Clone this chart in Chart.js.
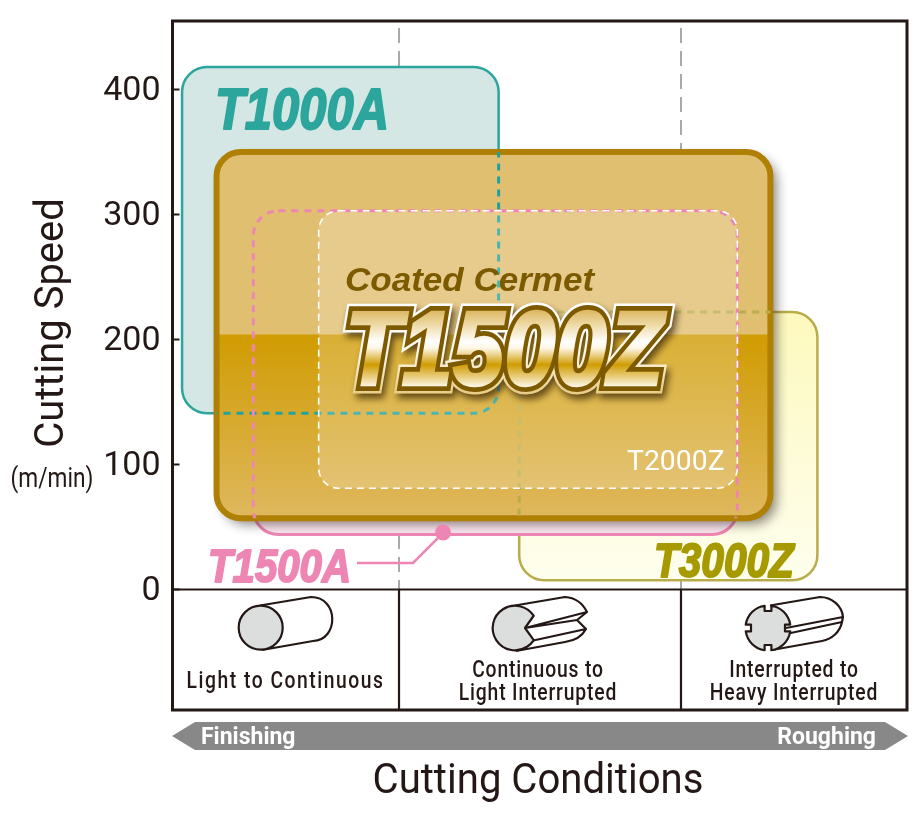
<!DOCTYPE html>
<html>
<head>
<meta charset="utf-8">
<style>
html, body { margin: 0; padding: 0; background: #fff; }
#chart { display: block; }
</style>
<script src="https://cdn.jsdelivr.net/npm/chart.js@4/dist/chart.umd.js"></script>
</head>
<body>
<canvas id="chart" width="923" height="820"></canvas>
<script>
// cutting speed range and position of each grade
const grades = ['T1000A', 'T3000Z', 'T1500A', 'T1500Z', 'T2000Z'];
const speedLow = [141, 7.5, 44, 57, 81];
const speedHigh = [418, 222, 303, 350, 303];
const condStart = [1.3, 47.2, 11, 6, 19.9];
const condEnd = [44.4, 87.8, 76.9, 81.4, 76.9];
const speedTicks = [0, 100, 200, 300, 400];
const condSplits = [30.84, 69.23];
const condLabels = [['Light to Continuous'], ['Continuous to', 'Light Interrupted'], ['Interrupted to', 'Heavy Interrupted']];

const INK = '#231815';
const TEAL = '#2ca59c';
const PINK = '#ee86b4';
const OLIVE = '#b8ad4a';
const BROWN = '#b08005';

function label(ctx, text, x, y, o) {
    ctx.save();
    ctx.translate(x, y);
    if (o.rotate) ctx.rotate(o.rotate);
    ctx.scale(o.sx || 1, 1);
    ctx.font = o.font;
    if (o.spacing) ctx.letterSpacing = o.spacing;
    ctx.textAlign = o.align || 'center';
    ctx.textBaseline = 'alphabetic';
    ctx.fillStyle = o.color || INK;
    if (o.thick) {
        ctx.lineWidth = o.thick;
        ctx.lineJoin = 'round';
        ctx.strokeStyle = o.color;
        ctx.strokeText(text, 0, 0);
    }
    ctx.fillText(text, 0, 0);
    ctx.restore();
}

function box(chart, i) {
    const { x, y } = chart.scales;
    const l = x.getPixelForValue(condStart[i]), r = x.getPixelForValue(condEnd[i]);
    const t = y.getPixelForValue(speedHigh[i]), b = y.getPixelForValue(speedLow[i]);
    return [l, t, r - l, b - t];
}

function roundBox(ctx, b, rad) {
    ctx.beginPath();
    ctx.roundRect(b[0], b[1], b[2], b[3], rad);
}

function drawIcon1(ctx) {
    ctx.beginPath();
    ctx.moveTo(260, 605.5);
    ctx.lineTo(311, 597);
    ctx.bezierCurveTo(339, 597, 339, 640, 313, 641);
    ctx.lineTo(262, 650);
    ctx.fillStyle = '#fff';
    ctx.stroke();
    ctx.beginPath();
    ctx.arc(260.7, 627.7, 22, 0, Math.PI * 2);
    ctx.fillStyle = '#dcdddd';
    ctx.fill();
    ctx.stroke();
}

function drawIcon2(ctx) {
    // body with the wedge groove
    ctx.beginPath();
    ctx.moveTo(515, 605.5);
    ctx.lineTo(565, 597);
    ctx.quadraticCurveTo(580, 598, 587, 612);
    ctx.lineTo(525, 628);
    ctx.moveTo(525, 628);
    ctx.lineTo(577, 620);
    ctx.lineTo(586, 629);
    ctx.lineTo(531, 641);
    ctx.moveTo(586, 629);
    ctx.quadraticCurveTo(580, 640, 565, 642);
    ctx.lineTo(516, 651);
    ctx.moveTo(587, 612);
    ctx.lineTo(577, 620);
    ctx.stroke();
    ctx.beginPath();
    ctx.moveTo(525, 628);
    ctx.lineTo(533.5, 616);
    ctx.arc(515, 628, 22.3, -0.57, 0.57, true);
    ctx.closePath();
    ctx.fillStyle = '#dcdddd';
    ctx.fill();
    ctx.stroke();
}

function drawIcon3(ctx) {
    ctx.beginPath();
    ctx.moveTo(770, 605.5);
    ctx.lineTo(820, 597);
    ctx.bezierCurveTo(832, 597, 842, 606, 843, 617);
    ctx.lineTo(786, 628);
    ctx.moveTo(843, 617);
    ctx.lineTo(842, 622);
    ctx.lineTo(786, 634);
    ctx.moveTo(842, 622);
    ctx.bezierCurveTo(840, 632, 832, 639, 822, 641);
    ctx.lineTo(772, 650);
    ctx.stroke();
    ctx.save();
    ctx.translate(768, 628);
    ctx.beginPath();
    // disc with four square notches
    for (let k = 0; k < 4; k++) {
        const a = k * Math.PI / 2;
        const gap = 0.15;
        ctx.arc(0, 0, 22.5, a + gap, a + Math.PI / 2 - gap);
        const n = a + Math.PI / 2;
        const cx = Math.cos(n), cy = Math.sin(n);
        const tx = -cy, ty = cx;
        ctx.lineTo(cx * 17 - tx * 3.4, cy * 17 - ty * 3.4);
        ctx.lineTo(cx * 17 + tx * 3.4, cy * 17 + ty * 3.4);
    }
    ctx.closePath();
    ctx.fillStyle = '#dcdddd';
    ctx.fill();
    ctx.stroke();
    ctx.restore();
}

const schemePlugin = {
    id: 'scheme',
    beforeDatasetsDraw(chart) {
        const { ctx, chartArea: area, scales: { x, y } } = chart;
        const y0 = y.getPixelForValue(0);
        const [A, C, PA, Z, W] = [0, 1, 2, 3, 4].map(i => box(chart, i));

        // grey dashed dividers over the speed area
        ctx.save();
        ctx.strokeStyle = '#a9a9a9';
        ctx.lineWidth = 2;
        ctx.setLineDash([15, 8]);
        condSplits.forEach(v => {
            const px = x.getPixelForValue(v);
            ctx.beginPath();
            ctx.moveTo(px, area.top + 7);
            ctx.lineTo(px, y0);
            ctx.stroke();
        });
        ctx.restore();

        // T1000A
        ctx.save();
        roundBox(ctx, A, 25);
        ctx.fillStyle = '#d5e7e4';
        ctx.fill();
        ctx.strokeStyle = TEAL;
        ctx.lineWidth = 2.5;
        ctx.stroke();
        // T3000Z
        roundBox(ctx, C, 25);
        const cg = ctx.createLinearGradient(0, C[1], 0, C[1] + C[3]);
        cg.addColorStop(0, '#fdf9bd');
        cg.addColorStop(1, '#fefeee');
        ctx.fillStyle = cg;
        ctx.fill();
        ctx.strokeStyle = OLIVE;
        ctx.stroke();
        // T1500A, solid part shows under the main box
        ctx.save();
        roundBox(ctx, PA, 25);
        ctx.fillStyle = '#fbe6ef';
        ctx.fill();
        ctx.restore();
        roundBox(ctx, PA, 25);
        ctx.strokeStyle = PINK;
        ctx.lineWidth = 3;
        ctx.stroke();

        // T1500Z main box
        ctx.save();
        ctx.shadowColor = 'rgba(40,30,30,0.55)';
        ctx.shadowBlur = 12;
        ctx.shadowOffsetX = 6;
        ctx.shadowOffsetY = 6;
        roundBox(ctx, Z, 24);
        ctx.fillStyle = '#e1bf70';
        ctx.fill();
        ctx.restore();
        const split = y.getPixelForValue(204);
        ctx.save();
        roundBox(ctx, Z, 24);
        ctx.clip();
        const zg = ctx.createLinearGradient(0, split, 0, Z[1] + Z[3]);
        zg.addColorStop(0, '#d09c02');
        zg.addColorStop(1, '#dfb85f');
        ctx.fillStyle = zg;
        ctx.fillRect(Z[0], split, Z[2], Z[1] + Z[3] - split);
        ctx.restore();
        roundBox(ctx, Z, 24);
        ctx.strokeStyle = BROWN;
        ctx.lineWidth = 6;
        ctx.stroke();

        // dashed outlines of what the main box covers
        ctx.save();
        roundBox(ctx, Z, 24);
        ctx.clip();
        ctx.lineWidth = 3;
        ctx.setLineDash([7, 6]);
        roundBox(ctx, A, 25);
        ctx.strokeStyle = '#1fa3a0';
        ctx.stroke();
        roundBox(ctx, C, 25);
        ctx.strokeStyle = OLIVE;
        ctx.stroke();
        roundBox(ctx, W, 20);
        ctx.fillStyle = 'rgba(255,255,255,0.2)';
        ctx.fill();
        ctx.setLineDash([7, 6]);
        ctx.lineWidth = 3;
        roundBox(ctx, PA, 25);
        ctx.strokeStyle = PINK;
        ctx.stroke();
        ctx.setLineDash([7, 5]);
        ctx.lineWidth = 1.6;
        roundBox(ctx, W, 20);
        ctx.strokeStyle = '#fff';
        ctx.stroke();
        ctx.restore();
        ctx.restore();

        // grade labels
        label(ctx, 'T1000A', 215, 129, { font: 'italic bold 58px "Liberation Sans"', sx: 0.843, align: 'left', color: TEAL, thick: 2 });
        label(ctx, 'T3000Z', 654, 576.5, { font: 'italic bold 48px "Liberation Sans"', sx: 0.845, align: 'left', color: '#a69a00', thick: 2 });
        label(ctx, 'T1500A', 208, 582, { font: 'italic bold 47px "Liberation Sans"', sx: 0.855, align: 'left', color: PINK, thick: 2 });
        label(ctx, 'T2000Z', 627, 470, { font: '27px Roboto', sx: 1.05, align: 'left', color: '#fff' });
        label(ctx, 'Coated Cermet', 345, 291, { font: 'italic bold 34px "Liberation Sans"', sx: 1.03, align: 'left', color: '#7b5a00' });

        // leader from T1500A
        ctx.save();
        ctx.strokeStyle = PINK;
        ctx.lineWidth = 2.5;
        ctx.beginPath();
        ctx.moveTo(357, 563);
        ctx.lineTo(413, 563);
        ctx.lineTo(443, 533);
        ctx.stroke();
        ctx.beginPath();
        ctx.arc(443, 532.5, 8, 0, Math.PI * 2);
        ctx.fillStyle = PINK;
        ctx.fill();
        ctx.restore();

        // big logo
        ctx.save();
        ctx.translate(345, 385);
        ctx.scale(0.88, 1);
        ctx.font = 'italic bold 105px "Liberation Sans"';
        ctx.textAlign = 'left';
        ctx.lineJoin = 'miter';
        ctx.miterLimit = 3;
        ctx.save();
        ctx.shadowColor = 'rgba(50,30,0,0.7)';
        ctx.shadowBlur = 7;
        ctx.shadowOffsetX = 3;
        ctx.shadowOffsetY = 5;
        const rim = ctx.createLinearGradient(0, -81, 0, 9);
        rim.addColorStop(0, '#ffffff');
        rim.addColorStop(0.55, '#fdf8ea');
        rim.addColorStop(1, '#e8cc84');
        ctx.strokeStyle = rim;
        ctx.lineWidth = 17;
        ctx.strokeText('T1500Z', 0, 0);
        ctx.restore();
        ctx.strokeStyle = '#7d5900';
        ctx.lineWidth = 12;
        ctx.strokeText('T1500Z', 0, 0);
        const gold = ctx.createLinearGradient(0, -75, 0, 1);
        gold.addColorStop(0, '#dcb660');
        gold.addColorStop(0.22, '#f0dfb0');
        gold.addColorStop(0.42, '#ffffff');
        gold.addColorStop(0.5, '#fdf7e6');
        gold.addColorStop(0.72, '#d09c02');
        gold.addColorStop(1, '#fbf4df');
        ctx.strokeStyle = gold;
        ctx.lineWidth = 2.5;
        ctx.strokeText('T1500Z', 0, 0);
        ctx.fillStyle = gold;
        ctx.fillText('T1500Z', 0, 0);
        ctx.restore();

        // lower table of cutting conditions
        ctx.save();
        ctx.strokeStyle = INK;
        ctx.lineWidth = 2.2;
        ctx.fillStyle = '#fff';
        ctx.fillRect(area.left, y0, area.width, area.bottom - y0);
        ctx.beginPath();
        ctx.moveTo(area.left, y0);
        ctx.lineTo(area.right, y0);
        condSplits.forEach(v => {
            const px = x.getPixelForValue(v);
            ctx.moveTo(px, y0);
            ctx.lineTo(px, area.bottom);
        });
        ctx.stroke();
        ctx.lineJoin = 'round';
        drawIcon1(ctx);
        drawIcon2(ctx);
        drawIcon3(ctx);
        ctx.restore();

        const capFont = '500 23px Roboto';
        const centres = [285.5, 538, 794];
        condLabels.forEach((lines, i) => {
            const ys = lines.length === 1 ? [688] : [677, 700];
            const spacing = lines.length === 1 ? '1.8px' : '1px';
            lines.forEach((t, k) => label(ctx, t, centres[i], ys[k], { font: capFont, sx: 0.84, spacing }));
        });

        // frame and inward tick marks
        ctx.save();
        ctx.strokeStyle = INK;
        ctx.lineWidth = 3;
        ctx.strokeRect(area.left, area.top, area.width, area.height);
        ctx.lineWidth = 2;
        speedTicks.forEach(v => {
            const py = y.getPixelForValue(v);
            ctx.beginPath();
            ctx.moveTo(area.left, py);
            ctx.lineTo(area.left + 7, py);
            ctx.stroke();
        });
        ctx.restore();

        // direction arrow below the table
        ctx.save();
        ctx.fillStyle = '#888888';
        ctx.beginPath();
        ctx.moveTo(172, 736);
        ctx.lineTo(195, 722);
        ctx.lineTo(885, 722);
        ctx.lineTo(908, 736);
        ctx.lineTo(885, 750);
        ctx.lineTo(195, 750);
        ctx.closePath();
        ctx.fill();
        ctx.restore();
        label(ctx, 'Finishing', 201, 744, { font: 'bold 23px Roboto', sx: 1, align: 'left', color: '#fff' });
        label(ctx, 'Roughing', 876, 744, { font: 'bold 23px Roboto', sx: 1, align: 'right', color: '#fff' });

        // axis titles
        label(ctx, 'Cutting Conditions', 538, 793, { font: '42px Roboto', sx: 0.955 });
        label(ctx, 'Cutting Speed', 63, 323, { font: '40px Roboto', rotate: -Math.PI / 2 });
        label(ctx, '(m/min)', 52, 487, { font: '27px Roboto', sx: 0.84 });
    }
};

new Chart(document.getElementById('chart'), {
    type: 'scatter',
    data: {
        datasets: grades.map((g, i) => ({
            label: g,
            data: [{ x: condStart[i], y: speedLow[i] }, { x: condEnd[i], y: speedHigh[i] }],
            pointRadius: 0,
            showLine: false
        }))
    },
    options: {
        responsive: false,
        animation: false,
        layout: { padding: { top: 21, right: 16, bottom: 110, left: 0 } },
        plugins: { legend: { display: false }, tooltip: { enabled: false }, title: { display: false } },
        scales: {
            x: {
                type: 'linear',
                min: 0,
                max: 100,
                grid: { display: false },
                border: { display: false },
                ticks: { display: false },
                afterFit: s => { s.height = 0; }
            },
            y: {
                type: 'linear',
                min: -96.4,
                max: 454.8,
                grid: { display: false },
                border: { display: false },
                afterBuildTicks: s => { s.ticks = speedTicks.map(v => ({ value: v })); },
                afterFit: s => { s.width = 172.5; s.paddingTop = 0; s.paddingBottom = 0; },
                ticks: {
                    padding: 4,
                    labelOffset: 2,
                    color: INK,
                    font: { family: 'Roboto', size: 34 },
                    callback: v => String(v)
                }
            }
        }
    },
    plugins: [schemePlugin]
});
</script>
</body>
</html>
